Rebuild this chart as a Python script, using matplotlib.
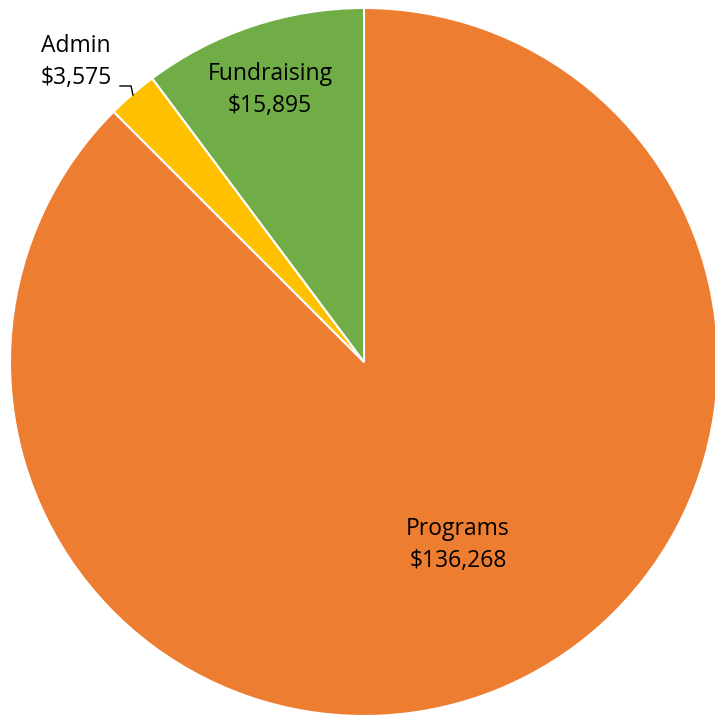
import matplotlib.pyplot as plt

labels = ['Programs', 'Admin', 'Fundraising']
values = [136268, 3575, 15895]
colors = ['#ED7D31', '#FFC000', '#70AD47']

W, H = 715, 719
fig = plt.figure(figsize=(W / 100, H / 100), dpi=100)
ax = fig.add_axes([0, 0, 1, 1])

cx, cy, r = 364, H - 362, 354
ax.pie(values, colors=colors, startangle=90, counterclock=False,
       center=(cx, cy), radius=r, frame=True,
       wedgeprops=dict(edgecolor='white', linewidth=1.5))
ax.set_xlim(0, W)
ax.set_ylim(0, H)
ax.set_aspect('equal')
ax.axis('off')

fs = 16.5
fam = 'Open Sans'
ls = 1.45
txt = [f'{l}\n${v:,}' for l, v in zip(labels, values)]
ax.text(458, H - 545, txt[0], ha='center', va='center', fontsize=fs,
        family=fam, linespacing=ls)
ax.text(270, H - 90, txt[2], ha='center', va='center', fontsize=fs,
        family=fam, linespacing=ls)
ax.text(76, H - 62, txt[1], ha='center', va='center', fontsize=fs,
        family=fam, linespacing=ls)
# leader line for Admin
ax.plot([120, 131, 133], [H - 86, H - 86, H - 95], color='black', lw=1)

fig.savefig('out.png', dpi=100)
